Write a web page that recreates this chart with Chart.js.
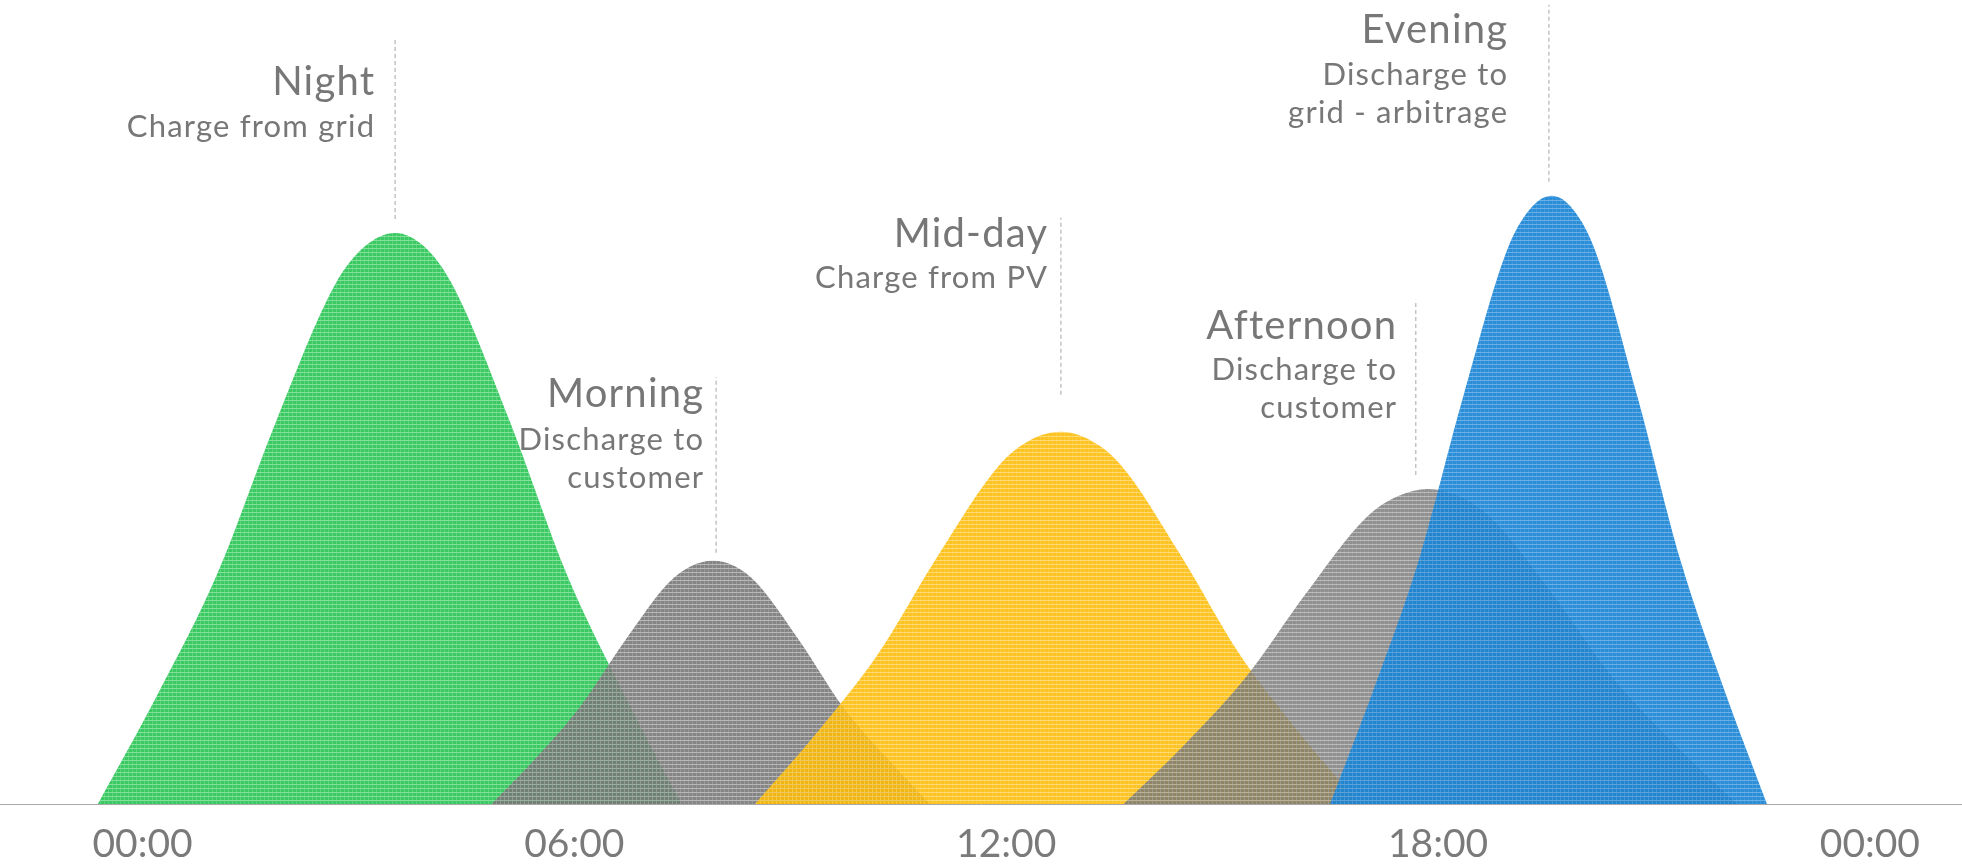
<!DOCTYPE html>
<html>
<head>
<meta charset="utf-8">
<script src="https://cdn.jsdelivr.net/npm/chart.js@4/dist/chart.umd.min.js"></script>
<style>
  html, body { margin: 0; padding: 0; background: #fff; }
  #wrap { width: 1962px; height: 867px; position: relative; }
</style>
</head>
<body>
<div id="wrap"><canvas id="chart"></canvas></div>
<script>
// hours of day on x, relative power on y
const nightHours = [-0.62, 0.20, 1.03, 1.86, 2.68, 3.09, 3.51, 3.91, 4.30, 5.10, 5.90, 6.70, 7.49];
const nightValues = [0, 17.8, 37.6, 63.0, 85.5, 91.7, 93.9, 91.7, 85.5, 63.0, 37.6, 17.8, 0];

const morningHours = [4.85, 5.47, 6.08, 6.70, 7.31, 7.62, 7.92, 8.23, 8.53, 9.13, 9.73, 10.34, 10.94];
const morningValues = [0, 7.6, 16.0, 26.8, 36.4, 39.1, 40.0, 39.1, 36.4, 26.8, 16.0, 7.6, 0];

const middayHours = [8.51, 9.36, 10.21, 11.06, 11.91, 12.33, 12.76, 13.17, 13.59, 14.42, 15.25, 16.08, 16.91];
const middayValues = [0, 11.6, 24.5, 41.0, 55.8, 59.8, 61.2, 59.8, 55.8, 41.0, 24.5, 11.6, 0];

const afternoonHours = [13.63, 14.48, 15.32, 16.17, 17.01, 17.44, 17.86, 18.29, 18.72, 19.58, 20.43, 21.29, 22.15];
const afternoonValues = [0, 9.8, 20.7, 34.7, 47.2, 50.6, 51.8, 50.6, 47.2, 34.7, 20.7, 9.8, 0];

const eveningHours = [16.50, 17.11, 17.73, 18.35, 18.96, 19.27, 19.58, 19.88, 20.18, 20.77, 21.37, 21.97, 22.57];
const eveningValues = [0, 19.0, 40.0, 67.0, 91.1, 97.7, 100, 97.7, 91.1, 67.0, 40.0, 19.0, 0];

// dashed leader lines: hour, bottom value, top value
const leaderHours = [3.51, 7.97, 12.76, 17.69, 19.54];
const leaderLow = [96.2, 41.3, 67.3, 54.1, 102.3];
const leaderHigh = [125.7, 70.2, 96.4, 82.9, 131.4];

const tickHours = [0, 6, 12, 18, 24];
const tickLabels = ["00:00", "06:00", "12:00", "18:00", "00:00"];

const periodTitles = ["Night", "Morning", "Mid-day", "Afternoon", "Evening"];
const periodNotes = [
    ["Charge from grid"],
    ["Discharge to", "customer"],
    ["Charge from PV"],
    ["Discharge to", "customer"],
    ["Discharge to", "grid - arbitrage"]
];

const FONT = "Lato, 'Open Sans', sans-serif";
const TEXT_GREY = "#777777";

// where the captions sit (pixels): right edge and baselines
const captionLayout = [
    { right: 374, lines: [95, 137] },
    { right: 703, lines: [407, 450, 488] },
    { right: 1047, lines: [247, 288] },
    { right: 1396, lines: [339, 380, 418] },
    { right: 1507, lines: [43, 85, 123] }
];

function toPoints(xs, ys) {
    return xs.map(function (x, i) { return { x: x, y: ys[i] }; });
}

function textured(base, light) {
    const c = document.createElement("canvas");
    c.width = 4;
    c.height = 4;
    const g = c.getContext("2d");
    g.fillStyle = base;
    g.fillRect(0, 1, 4, 3);
    g.fillStyle = light;
    g.fillRect(0, 0, 4, 1);
    g.fillRect(0, 1, 1, 3);
    return g.createPattern(c, "repeat");
}

function hump(label, xs, ys, base, light, order) {
    return {
        label: label,
        data: toPoints(xs, ys),
        fill: "origin",
        backgroundColor: textured(base, light),
        borderWidth: 0,
        pointRadius: 0,
        cubicInterpolationMode: "monotone",
        order: order
    };
}

const leaders = leaderHours.map(function (h, i) {
    return {
        label: "leader " + i,
        data: [{ x: h, y: leaderLow[i] }, { x: h, y: leaderHigh[i] }],
        borderColor: "#c4c4c4",
        borderWidth: 1.5,
        borderDash: [4, 3],
        pointRadius: 0,
        fill: false,
        order: 0
    };
});

const captions = {
    id: "captions",
    afterDraw: function (chart) {
        const ctx = chart.ctx;
        ctx.save();
        ctx.fillStyle = TEXT_GREY;
        ctx.textAlign = "right";
        ctx.textBaseline = "alphabetic";
        captionLayout.forEach(function (pos, i) {
            ctx.font = "40px " + FONT;
            ctx.letterSpacing = "1.2px";
            ctx.fillText(periodTitles[i], pos.right + 1.2, pos.lines[0]);
            ctx.font = "31px " + FONT;
            ctx.letterSpacing = "1.2px";
            periodNotes[i].forEach(function (line, j) {
                ctx.fillText(line, pos.right + 1.2, pos.lines[j + 1]);
            });
        });
        ctx.restore();
    }
};

new Chart(document.getElementById("chart"), {
    type: "line",
    data: {
        datasets: [
            hump("Night", nightHours, nightValues, "rgba(48,198,92,0.95)", "rgba(100,215,130,0.8)", 5),
            hump("Morning", morningHours, morningValues, "rgba(120,120,120,0.9)", "rgba(160,160,160,0.75)", 4),
            hump("Mid-day", middayHours, middayValues, "rgba(252,188,10,0.9)", "rgba(255,205,70,0.75)", 3),
            hump("Afternoon", afternoonHours, afternoonValues, "rgba(120,120,120,0.82)", "rgba(160,160,160,0.7)", 2),
            hump("Evening", eveningHours, eveningValues, "rgba(26,132,210,0.92)", "rgba(70,155,225,0.8)", 1)
        ].concat(leaders)
    },
    options: {
        responsive: true,
        maintainAspectRatio: false,
        animation: false,
        layout: { padding: 0 },
        plugins: {
            legend: { display: false },
            tooltip: { enabled: false }
        },
        scales: {
            x: {
                type: "linear",
                min: -1.98,
                max: 25.28,
                afterBuildTicks: function (scale) {
                    scale.ticks = tickHours.map(function (v) { return { value: v }; });
                },
                afterFit: function (scale) {
                    scale.height = 63;
                },
                grid: { display: false, drawTicks: false },
                border: { display: true, color: "#a8a8a8", width: 1, dash: [2, 2] },
                ticks: {
                    autoSkip: false,
                    maxRotation: 0,
                    padding: 17,
                    color: "#7a7a7a",
                    font: { family: FONT, size: 39 },
                    callback: function (value) {
                        return tickLabels[tickHours.indexOf(value)];
                    }
                }
            },
            y: {
                display: false,
                min: 0,
                max: 132.2
            }
        }
    },
    plugins: [captions]
});
</script>
</body>
</html>
